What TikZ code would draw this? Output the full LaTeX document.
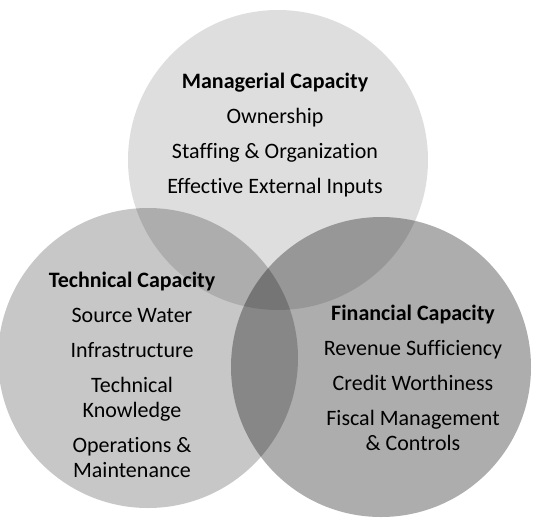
\documentclass[tikz,border=0pt]{standalone}
\usepackage{fontspec}
\setmainfont{Carlito}[Ligatures=NoCommon]
\usetikzlibrary{calc}
\definecolor{shade1}{rgb}{0,0,0}

\begin{document}
\begin{tikzpicture}[x=1pt,y=-1pt,
    ring/.style={circle,minimum size=300pt,inner sep=0pt,fill=shade1},
    label/.style={align=center,font=\fontsize{22}{25}\selectfont}]

    \useasboundingbox (0,0) rectangle (539,523);

    % the three circles
    \node[ring,fill opacity=0.13] (mng) at (278,160) {};
    \node[ring,fill opacity=0.22] (tec) at (148,358) {};
    \node[ring,fill opacity=0.32] (fin) at (381,367) {};

    % texts
    \node[label] (mngtext) at (275,135) {\textbf{Managerial Capacity}\\[10pt]
        Ownership\\[10pt] Staffing \& Organization\\[10pt] Effective External Inputs};
    \node[label] (tectext) at (132,375) {\textbf{Technical Capacity}\\[10pt]
        Source Water\\[10pt] Infrastructure\\[10pt] Technical\\ Knowledge\\[10pt]
        Operations \&\\ Maintenance};
    \node[label] (fintext) at (413,378) {\textbf{Financial Capacity}\\[10pt]
        Revenue Sufficiency\\[10pt] Credit Worthiness\\[10pt] Fiscal Management\\
        \& Controls};

  \end{tikzpicture}
\end{document}
